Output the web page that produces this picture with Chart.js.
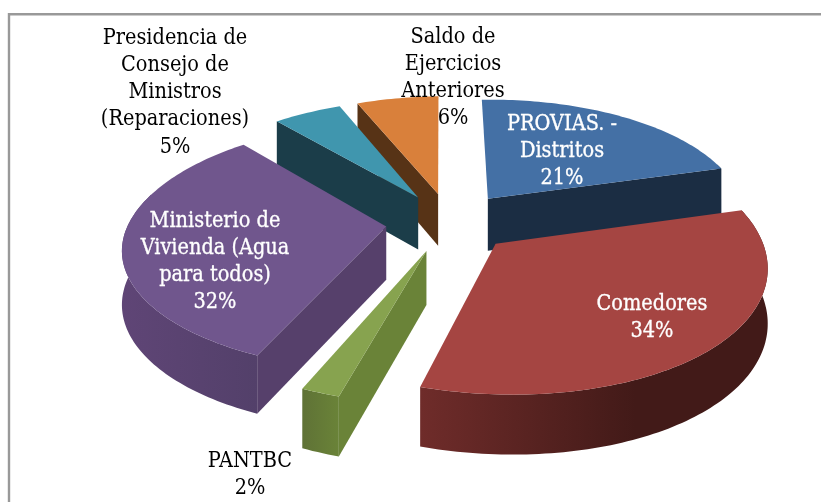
<!DOCTYPE html>
<html><head><meta charset="utf-8">
<style>html,body{margin:0;padding:0;background:#fff;overflow:hidden}
canvas{display:block}</style>
<script src="https://cdn.jsdelivr.net/npm/chart.js@4"></script>
</head><body>
<canvas id="c" width="821" height="502"></canvas>
<script>
const categories = ["PROVIAS. - Distritos","Comedores","PANTBC","Ministerio de Vivienda (Agua para todos)","Presidencia de Consejo de Ministros (Reparaciones)","Saldo de Ejercicios Anteriores"];
const values = [21,34,2,32,5,6];
const labelLines = [["PROVIAS. -","Distritos","21%"],["Comedores","34%"],["PANTBC","2%"],["Ministerio de","Vivienda (Agua","para todos)","32%"],["Presidencia de","Consejo de","Ministros","(Reparaciones)","5%"],["Saldo de","Ejercicios","Anteriores","6%"]];
const topColors = ["#4470a5","#a54542","#87a34f","#70568d","#4096ae","#d9803b"];
const wallLeft = ["#1b2d43","#6f2c2a","#5f7236","#5f4576","#1b3d49","#573316"];
const wallRight = ["#1b2d43","#421a18","#6a8338","#53406a","#1b3d49","#573316"];
const radialWall = ["#1b2d43","#421a18","#6a8338","#56406b","#1b3d49","#573316"];
const labelX = [562,652,250,215,175,453];
const labelY = [124,304,461,221,38,37];
const labelColor = ["#fff","#fff","#000","#fff","#000","#000"];
const paintOrder = [5,4,0,3,2,1];

const R = 259, EXPLODE = 64, A = 0.465, B = 0.000586, DEPTH = 53, VX = 441, LINE = 27.3, WARP = 0.00014, TILT = 0.012;
const pie3d = {
  id:"pie3d",
  beforeDraw(chart){
    const c = chart.ctx; c.save();
    c.strokeStyle="#999"; c.lineWidth=2.4;
    c.beginPath(); c.moveTo(9,502); c.lineTo(9,14.2); c.lineTo(821,14.2); c.stroke();
    c.restore();
  },
  beforeDatasetDraw(chart){
    const c = chart.ctx, arcs = chart.getDatasetMeta(0).data;
    const project = (gx,gy,z,el) => {
      const s = 1/(1-B*gy), f = gy>0 ? WARP*gy*gy : 0;
      return [VX+(el.x-VX+gx)*s+f, el.y+A*gy*s+z*(1+(s-1)*0.6)-TILT*gx];
    };
    const fillPoly = (pts,col) => {
      c.beginPath(); pts.forEach((p,i)=> i?c.lineTo(p[0],p[1]):c.moveTo(p[0],p[1])); c.closePath();
      c.fillStyle=col; c.fill();
    };
    c.save();
    paintOrder.forEach(i=>{
      const el = arcs[i], a0=el.startAngle, a1=el.endAngle, mid=(a0+a1)/2;
      const ox = EXPLODE*Math.cos(mid), oy = EXPLODE*Math.sin(mid);
      const N = Math.max(4,Math.ceil((a1-a0)*50));
      const rim = t => { const a=a0+(a1-a0)*t; return [ox+R*Math.cos(a), oy+R*Math.sin(a), a]; };
      // outer wall: the part of the rim that can show below the top face, as one polygon
      const front=[];
      for(let k=0;k<=N;k++){ const p=rim(k/N); if(Math.sin(p[2])>=-0.3) front.push(p); }
      if(front.length>1){
        const upper=front.map(p=>project(p[0],p[1],0,el));
        const lower=front.map(p=>project(p[0],p[1],DEPTH,el)).reverse();
        const xs=upper.map(p=>p[0]), xMin=Math.min(...xs), xMax=Math.max(...xs);
        const g=c.createLinearGradient(xMin,0,xMax,0);
        g.addColorStop(0,wallLeft[i]);
        g.addColorStop(i===1?0.62:1,wallRight[i]);
        g.addColorStop(1,wallRight[i]);
        fillPoly(upper.concat(lower),g);
      }
      // radial walls that face the viewer
      const wall = a => {
        const e=[ox+R*Math.cos(a),oy+R*Math.sin(a)];
        fillPoly([project(ox,oy,0,el),project(e[0],e[1],0,el),project(e[0],e[1],DEPTH,el),project(ox,oy,DEPTH,el)],radialWall[i]);
      };
      if(Math.cos(a1)>0) wall(a1);
      if(Math.cos(a0)<0) wall(a0);
      // top face
      const top=[project(ox,oy,0,el)];
      for(let k=0;k<=N;k++){ const p=rim(k/N); top.push(project(p[0],p[1],0,el)); }
      fillPoly(top,topColors[i]);
    });
    c.restore();
    return false;
  },
  afterDatasetsDraw(chart){
    const c = chart.ctx; c.save();
    c.font='21.5px "DejaVu Serif Condensed","DejaVu Serif",serif';
    c.textAlign="center"; c.textBaseline="middle"; c.lineWidth=0.3; c.lineJoin="round";
    labelLines.forEach((lines,i)=>{
      c.fillStyle=labelColor[i]; c.strokeStyle=labelColor[i];
      lines.forEach((t,j)=>{
        c.fillText(t,labelX[i],labelY[i]+j*LINE);
        if(labelColor[i]==="#fff") c.strokeText(t,labelX[i],labelY[i]+j*LINE);
      });
    });
    c.restore();
  }
};

new Chart(document.getElementById("c"),{
  type:"pie",
  data:{labels:categories,datasets:[{data:values,backgroundColor:topColors,offset:EXPLODE,borderWidth:0}]},
  options:{responsive:false,animation:false,
    layout:{padding:{left:79,bottom:58}},
    plugins:{legend:{display:false},tooltip:{enabled:false}}},
  plugins:[pie3d]
});
</script>
</body></html>
